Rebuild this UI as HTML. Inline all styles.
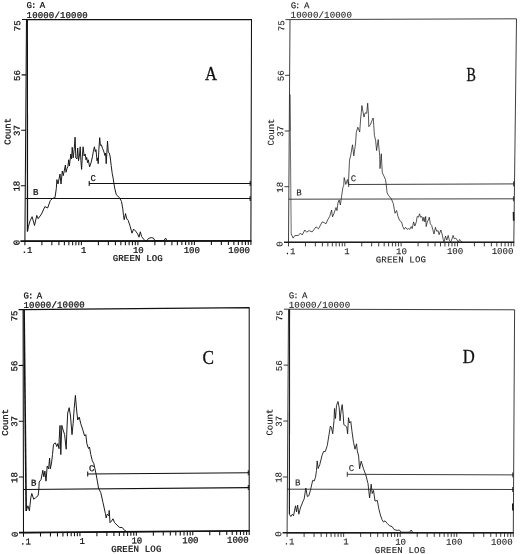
<!DOCTYPE html>
<html lang="en">
<head>
<meta charset="utf-8">
<title>Flow cytometry histograms</title>
<style>
html,body{margin:0;padding:0;background:#fff;}
body{width:520px;height:554px;overflow:hidden;}
svg{display:block;}
svg text{white-space:pre;}
</style>
</head>
<body>
<svg width="520" height="554" viewBox="0 0 520 554">
<rect width="520" height="554" fill="#fff"/>
<!-- panel A -->
<g stroke="#111" fill="none" stroke-width="1.05">
<path d="M26.5 19.4 L251.5 19.6 L250.9 241.1 L24.9 241.2 Z" stroke-linejoin="miter"/>
<path d="M20.38 241.05 L251.43 240.95" stroke-width="1.7"/>
<path d="M22 19.4 L26.5 19.4 M21.59 74.85 L26.1 74.85 M21.19 130.3 L25.7 130.3 M20.79 185.75 L25.3 185.75 M24.9 241.2 L24.87 245.2 M41.91 241.19 L41.88 245.19 M51.86 241.19 L51.83 245.18 M58.92 241.18 L58.89 245.18 M64.39 241.18 L64.37 245.18 M68.87 241.18 L68.84 245.18 M72.65 241.18 L72.62 245.17 M75.92 241.18 L75.9 245.17 M78.81 241.18 L78.79 245.17 M81.4 241.17 L81.38 245.17 M98.41 241.17 L98.39 245.16 M108.36 241.16 L108.34 245.16 M115.42 241.16 L115.39 245.15 M120.89 241.16 L120.87 245.15 M125.37 241.16 L125.34 245.15 M129.15 241.15 L129.13 245.15 M132.42 241.15 L132.4 245.15 M135.31 241.15 L135.29 245.14 M137.9 241.15 L137.88 245.14 M154.91 241.14 L154.89 245.14 M164.86 241.14 L164.84 245.13 M171.92 241.13 L171.9 245.13 M177.39 241.13 L177.38 245.13 M181.87 241.13 L181.85 245.12 M185.65 241.13 L185.63 245.12 M188.92 241.13 L188.91 245.12 M191.81 241.13 L191.8 245.12 M194.4 241.12 L194.38 245.12 M211.41 241.12 L211.39 245.11 M221.36 241.11 L221.34 245.1 M228.42 241.11 L228.4 245.1 M233.89 241.11 L233.88 245.1 M238.37 241.11 L238.35 245.1 M242.15 241.1 L242.14 245.1 M245.42 241.1 L245.41 245.09 M248.31 241.1 L248.3 245.09 M250.9 241.1 L250.89 245.09"/>
</g>
<path d="M25.21 198.4 L251.02 198.4 M89.2 183.5 L251.06 183.5 M89.2 181v5 M250.16 181v5 M250.12 195.9v5" stroke="#111" fill="none" stroke-width="1.05"/>
<g transform="matrix(1.00222 0.00022 -0.00495 0.99842 26.25 19.47)" fill="#111" stroke="#111" stroke-width="0.25" font-family="Liberation Mono, DejaVu Sans Mono, monospace" font-size="9">
<text x="0.3" y="-11" textLength="18.6" lengthAdjust="spacing">G: A</text>
<text x="0.3" y="-1.6" textLength="61" lengthAdjust="spacing">10000/10000</text>
<text transform="translate(-6 6.3) rotate(-90)" text-anchor="middle">75</text>
<text transform="translate(-6 56.1) rotate(-90)" text-anchor="middle">56</text>
<text transform="translate(-6 111.2) rotate(-90)" text-anchor="middle">37</text>
<text transform="translate(-6 167) rotate(-90)" text-anchor="middle">18</text>
<text transform="translate(-5.7 223.4) rotate(-90)" text-anchor="middle">0</text>
<text transform="translate(-15.2 112) rotate(-90)" text-anchor="middle" textLength="26.8" lengthAdjust="spacing">Count</text>
<text x="2" y="233.7" text-anchor="middle">.1</text>
<text x="58.6" y="233.7" text-anchor="middle">1</text>
<text x="113" y="233.7" text-anchor="middle">10</text>
<text x="166.3" y="233.7" text-anchor="middle">100</text>
<text x="213.6" y="233.7" text-anchor="middle">1000</text>
<text x="87.4" y="241.9" textLength="50" lengthAdjust="spacing">GREEN LOG</text>
<text x="7.6" y="175.61">B</text>
<text x="64.9" y="161.68">C</text>
</g>
<text transform="translate(205 80) scale(0.9 1)" font-family="Liberation Serif, DejaVu Serif, serif" font-size="18.5" fill="#111" stroke="#111" stroke-width="0.3">A</text>
<path d="M27.5 231.5 28.3 226.8 30.1 220.8 32.1 216.7 34.5 225.5 36.8 215.4 38.2 218.7 41.5 214 44.9 206.6 47.6 208 50.3 200.6 52.3 198.6 55 197.6 56.3 188.5 56.9 179.6 58 184 59 179 60 174 61 184 62.3 171 63.3 175.6 65.4 165 66 172.3 67 168.5 67.9 166.5 68.7 159.8 69.4 166 70.8 154 71.6 158.8 72.2 147.3 73.2 157.9 74.2 149.2 75.1 137.2 75.8 157.9 77 158.8 77.7 148 78.5 160.8 79.5 155 80.2 146.8 80.9 160.8 81.6 169.4 82.3 156.9 83.1 146.8 84.1 156 85.2 154 86 159.8 86.7 157.4 87.6 162.7 88.3 159.8 89.6 167 91.2 162.2 92.4 156.9 93.4 151.2 94.4 146.8 95.3 151.6 96 149.7 97 160.8 97.7 157.9 98.2 163.7 98.9 149.2 99.7 137.7 100.4 145.4 101.4 144.9 102.5 148.3 104 152.1 104.9 155.5 105.6 153.1 106.2 163.7 106.9 152.1 107.5 141 108.3 152.1 109.3 153.1 110.2 156.9 111.2 165.6 112.2 173.3 113.1 178 113.4 180 114.7 188.1 116.3 194.8 119.4 197.5 121.5 201.5 122.8 208.9 123.5 215.7 124.2 219.7 125.5 213.6 126.8 219 128.2 220.4 130.2 226.4 132 233.2 133.6 229.1 135.6 231.1 137.6 233.8 139 237.2 140.3 231.8 141.6 236.5 143.7 239.2 145 240.6 147 240.6 148.4 238.5 151.1 237.6 153.5 238.1 154.8 240.6 163.9 240.6 165.6 238.1 167 240.7" fill="none" stroke="#111" stroke-width="0.95" stroke-linejoin="round"/>
<path d="M27.3 19.4 L27.5 231.5" fill="none" stroke="#111" stroke-width="1.3"/>
<!-- panel B -->
<g stroke="#1c1c1c" fill="none" stroke-width="0.85">
<path d="M290 19.6 L516.5 18.8 L513.8 242.4 L288.5 242.4 Z" stroke-linejoin="miter"/>
<path d="M283.99 242.25 L514.23 242.25" stroke-width="1.7"/>
<path d="M285.47 19.62 L290 19.6 M285.1 75.31 L289.62 75.3 M284.73 131.01 L289.25 131 M284.36 186.7 L288.88 186.7 M288.5 242.4 L288.47 246.41 M305.46 242.4 L305.43 246.42 M315.37 242.4 L315.34 246.42 M322.41 242.4 L322.38 246.42 M327.87 242.4 L327.84 246.42 M332.33 242.4 L332.3 246.42 M336.1 242.4 L336.07 246.42 M339.37 242.4 L339.33 246.42 M342.25 242.4 L342.22 246.42 M344.82 242.4 L344.79 246.42 M361.78 242.4 L361.75 246.42 M371.7 242.4 L371.66 246.42 M378.74 242.4 L378.7 246.42 M384.19 242.4 L384.16 246.42 M388.65 242.4 L388.62 246.42 M392.43 242.4 L392.39 246.42 M395.69 242.4 L395.65 246.42 M398.57 242.4 L398.54 246.42 M401.15 242.4 L401.11 246.42 M418.11 242.4 L418.07 246.42 M428.02 242.4 L427.98 246.42 M435.06 242.4 L435.02 246.42 M440.52 242.4 L440.48 246.42 M444.98 242.4 L444.94 246.42 M448.75 242.4 L448.71 246.42 M452.02 242.4 L451.97 246.42 M454.9 242.4 L454.85 246.43 M457.47 242.4 L457.43 246.43 M474.43 242.4 L474.39 246.43 M484.35 242.4 L484.3 246.43 M491.39 242.4 L491.34 246.43 M496.84 242.4 L496.8 246.43 M501.3 242.4 L501.26 246.43 M505.08 242.4 L505.03 246.43 M508.34 242.4 L508.29 246.43 M511.22 242.4 L511.17 246.43 M513.8 242.4 L513.75 246.43"/>
</g>
<path d="M288.79 199.2 L514.33 198.8 M348.7 184.5 L514.51 183.9 M348.7 182v5 M513.61 181.4v5 M513.43 196.3v5" stroke="#1c1c1c" fill="none" stroke-width="0.85"/>
<g transform="matrix(1.00400 -0.00178 -0.00946 1.00541 290.30 19.40)" fill="#1c1c1c" stroke="#1c1c1c" stroke-width="0.1" font-family="Liberation Mono, DejaVu Sans Mono, monospace" font-size="9">
<text x="0.3" y="-11" textLength="18.6" lengthAdjust="spacing">G: A</text>
<text x="0.3" y="-1.6" textLength="61" lengthAdjust="spacing">10000/10000</text>
<text transform="translate(-6 6.3) rotate(-90)" text-anchor="middle">75</text>
<text transform="translate(-6 56.1) rotate(-90)" text-anchor="middle">56</text>
<text transform="translate(-6 111.2) rotate(-90)" text-anchor="middle">37</text>
<text transform="translate(-6 167) rotate(-90)" text-anchor="middle">18</text>
<text transform="translate(-5.7 223.4) rotate(-90)" text-anchor="middle">0</text>
<text transform="translate(-15.2 112) rotate(-90)" text-anchor="middle" textLength="26.8" lengthAdjust="spacing">Count</text>
<text x="2" y="233.7" text-anchor="middle">.1</text>
<text x="58.6" y="233.7" text-anchor="middle">1</text>
<text x="113" y="233.7" text-anchor="middle">10</text>
<text x="166.3" y="233.7" text-anchor="middle">100</text>
<text x="213.6" y="233.7" text-anchor="middle">1000</text>
<text x="87.4" y="241.9" textLength="50" lengthAdjust="spacing">GREEN LOG</text>
<text x="7.6" y="175.23">B</text>
<text x="61.8" y="161.01">C</text>
</g>
<text transform="translate(466.5 80.8) scale(0.76 1)" font-family="Liberation Serif, DejaVu Serif, serif" font-size="18.5" fill="#111" stroke="#111" stroke-width="0.3">B</text>
<path d="M291.2 234 293.2 238.1 294.8 235.6 298.5 235.4 300.4 233.1 302.2 235 304.8 230 306.6 232.2 309.1 230.6 312.2 231.9 316 226.9 318.5 228.8 322.2 221.9 324.1 222.5 326 223.8 327.9 219.4 329.8 216.2 331.6 210 332.5 216.9 334.1 213.1 336 207.5 337 210.6 337.9 203.1 339.1 200 340.4 205 341.6 196.2 342.9 187.5 343.7 185.5 344.2 177.6 345.8 184.4 347.4 179.5 348.4 184.4 349.5 160.1 350.6 155.9 352.5 144.8 353.8 155.9 355.6 143 356.3 132.5 357.8 127.2 359.7 132 360.7 118 361.3 112.3 361.9 105.6 362.9 111.3 364 117.1 365.2 112.8 366.7 113.3 367.7 103.2 368.4 114.2 368.8 126.7 370.3 124.8 372.2 120 373.2 118 373.8 125.8 374.4 135.4 375.6 140.2 376.6 150.6 378.2 139.5 379.7 155.9 380 168.6 381.3 153.8 381.8 163.8 382.3 172.8 383.9 176 385.5 179.7 386.2 184.4 387.1 192.9 388.3 195.2 391.3 198.8 393.3 203.7 395 213.2 396.6 210.5 398 216.5 399.7 220.6 401.5 221.9 402.8 226.6 404.2 229.3 405.5 227.3 407.1 229.3 408.5 228.6 409.8 229.3 411.2 226.6 412.2 228.6 413.6 221.9 414.9 226 416.3 221.9 417.2 216.5 418.6 217.2 419.5 213.8 420.6 217.2 421.9 216.5 423 221.2 423.9 217.2 424.9 221.9 425.7 216.5 426.2 226.6 427.3 221.9 428.4 219.9 429.3 217.2 430.3 223.9 431.6 225.3 432.7 229.3 434 234 435.4 227.3 436.7 231.3 438.1 230.7 439.1 234.7 440.8 230 442.1 234 443.2 239.4 444.1 241.8 445.5 236 446.8 240.1 448.2 235.4 449.5 240.8 450.9 241.8 452.2 238.1 453.1 235.4 454.2 238.7 455.8 238.1 457.2 240.1 458.3 242.1 459.6 239.4 460.9 241.4 462.3 242" fill="none" stroke="#1c1c1c" stroke-width="0.75" stroke-linejoin="round"/>
<path d="M290 94.4 L290.31 131" fill="none" stroke="#1c1c1c" stroke-width="0.85"/>
<path d="M290.31 131 L291.2 234" fill="none" stroke="#3a3a3a" stroke-width="0.75"/>
<path d="M513.5 212 L513.7 220.7" stroke="#1c1c1c" stroke-width="1.6" fill="none"/>
<!-- panel C -->
<g stroke="#111" fill="none" stroke-width="1.05">
<path d="M23.1 309.6 L249.2 307.6 L249.2 530.9 L23.5 532.7 Z" stroke-linejoin="miter"/>
<path d="M18.99 532.59 L249.73 530.74" stroke-width="1.7"/>
<path d="M18.58 309.64 L23.1 309.6 M18.68 365.41 L23.2 365.38 M18.78 421.19 L23.3 421.15 M18.88 476.96 L23.4 476.93 M23.5 532.7 L23.51 536.72 M40.49 532.56 L40.49 536.58 M50.42 532.49 L50.43 536.51 M57.47 532.43 L57.48 536.45 M62.94 532.39 L62.95 536.41 M67.41 532.35 L67.41 536.37 M71.18 532.32 L71.19 536.34 M74.46 532.29 L74.46 536.31 M77.34 532.27 L77.35 536.29 M79.92 532.25 L79.93 536.27 M96.91 532.11 L96.92 536.14 M106.85 532.04 L106.85 536.06 M113.9 531.98 L113.9 536 M119.36 531.94 L119.37 535.96 M123.83 531.9 L123.84 535.92 M127.61 531.87 L127.61 535.89 M130.88 531.84 L130.89 535.87 M133.77 531.82 L133.77 535.84 M136.35 531.8 L136.35 535.82 M153.34 531.66 L153.34 535.69 M163.27 531.59 L163.27 535.61 M170.32 531.53 L170.32 535.55 M175.79 531.49 L175.79 535.51 M180.26 531.45 L180.26 535.47 M184.03 531.42 L184.04 535.44 M187.31 531.39 L187.31 535.42 M190.19 531.37 L190.2 535.39 M192.77 531.35 L192.78 535.37 M209.76 531.21 L209.76 535.24 M219.7 531.14 L219.7 535.16 M226.75 531.08 L226.75 535.1 M232.21 531.04 L232.21 535.06 M236.68 531 L236.68 535.02 M240.46 530.97 L240.46 534.99 M243.73 530.94 L243.73 534.97 M246.62 530.92 L246.62 534.94 M249.2 530.9 L249.2 534.92"/>
</g>
<path d="M23.42 489.5 L249.2 487.6 M87.7 473.9 L249.2 472.7 M87.7 471.4v5 M248.3 470.2v5 M248.3 485.1v5" stroke="#111" fill="none" stroke-width="1.05"/>
<g transform="matrix(1.00400 -0.00844 0.00090 1.00541 23.20 309.55)" fill="#111" stroke="#111" stroke-width="0.25" font-family="Liberation Mono, DejaVu Sans Mono, monospace" font-size="9">
<text x="0.3" y="-11" textLength="18.6" lengthAdjust="spacing">G: A</text>
<text x="0.3" y="-1.6" textLength="61" lengthAdjust="spacing">10000/10000</text>
<text transform="translate(-6 6.3) rotate(-90)" text-anchor="middle">75</text>
<text transform="translate(-6 56.1) rotate(-90)" text-anchor="middle">56</text>
<text transform="translate(-6 111.2) rotate(-90)" text-anchor="middle">37</text>
<text transform="translate(-6 167) rotate(-90)" text-anchor="middle">18</text>
<text transform="translate(-5.7 223.4) rotate(-90)" text-anchor="middle">0</text>
<text transform="translate(-15.2 112) rotate(-90)" text-anchor="middle" textLength="26.8" lengthAdjust="spacing">Count</text>
<text x="2" y="233.7" text-anchor="middle">.1</text>
<text x="58.6" y="233.7" text-anchor="middle">1</text>
<text x="113" y="233.7" text-anchor="middle">10</text>
<text x="166.3" y="233.7" text-anchor="middle">100</text>
<text x="213.6" y="233.7" text-anchor="middle">1000</text>
<text x="87.4" y="241.9" textLength="50" lengthAdjust="spacing">GREEN LOG</text>
<text x="7.6" y="175.38">B</text>
<text x="65.4" y="161.27">C</text>
</g>
<text transform="translate(202.6 364) scale(0.93 1)" font-family="Liberation Serif, DejaVu Serif, serif" font-size="18.5" fill="#111" stroke="#111" stroke-width="0.3">C</text>
<path d="M26.2 511 27.9 505.8 29.4 510.8 30.8 497.8 31.8 493.5 33.7 499.2 35.6 497.8 38.1 495.6 38.8 489.9 39.2 481.9 41 479.7 42.8 470.3 43.8 476.8 44.9 471.1 46 481.2 47.2 466 48.6 468.9 49.6 458.1 50.3 468.9 51.5 463.1 52.5 454.5 53.5 444.3 55.4 442.9 56.8 446.5 57.9 443.6 59 448.7 59.2 439.2 60 425.4 60.8 454.6 61.8 425.4 63.1 430 64.6 434.6 66.2 449.2 66.9 430 67.7 413 69.2 407.7 70.5 416 72 434.6 73.1 423.8 74.2 408.5 75.4 395.4 76.6 410 77.7 420 79.2 417 80.8 423.8 83.1 430.8 84.6 436 85.8 434.6 86.9 443.8 88.5 448.5 89.5 447 90.8 454.6 92.3 460.8 93.8 463.5 95.4 471 96.2 474.5 98.5 488 100.8 492.7 103 502.7 105.4 513.5 106.2 518 107.2 514.2 108.8 515.8 109.2 510.4 110 522.7 111.5 521 113 518.8 114.6 522.7 117 525 119.2 527.3 122.3 527.6 124.6 530.4 126.2 531.2" fill="none" stroke="#111" stroke-width="0.95" stroke-linejoin="round"/>
<path d="M24.1 309.6 L26.2 511" fill="none" stroke="#111" stroke-width="1.6"/>
<!-- panel D -->
<g stroke="#1a1a1a" fill="none" stroke-width="0.85">
<path d="M288.5 309.2 L514.6 309.8 L513.3 532.9 L287.1 532.9 Z" stroke-linejoin="miter"/>
<path d="M282.58 532.75 L513.73 532.75" stroke-width="1.7"/>
<path d="M283.98 309.19 L288.5 309.2 M283.63 365.12 L288.15 365.12 M283.28 421.04 L287.8 421.05 M282.93 476.97 L287.45 476.97 M287.1 532.9 L287.07 536.93 M304.12 532.9 L304.1 536.93 M314.08 532.9 L314.06 536.93 M321.15 532.9 L321.12 536.93 M326.63 532.9 L326.6 536.93 M331.1 532.9 L331.08 536.93 M334.89 532.9 L334.87 536.93 M338.17 532.9 L338.14 536.93 M341.06 532.9 L341.04 536.93 M343.65 532.9 L343.63 536.93 M360.67 532.9 L360.65 536.93 M370.63 532.9 L370.61 536.93 M377.7 532.9 L377.67 536.93 M383.18 532.9 L383.15 536.93 M387.65 532.9 L387.63 536.93 M391.44 532.9 L391.42 536.93 M394.72 532.9 L394.7 536.93 M397.61 532.9 L397.59 536.93 M400.2 532.9 L400.18 536.93 M417.22 532.9 L417.2 536.92 M427.18 532.9 L427.16 536.92 M434.25 532.9 L434.22 536.92 M439.73 532.9 L439.7 536.92 M444.2 532.9 L444.18 536.92 M447.99 532.9 L447.97 536.92 M451.27 532.9 L451.25 536.92 M454.16 532.9 L454.14 536.92 M456.75 532.9 L456.73 536.92 M473.77 532.9 L473.75 536.92 M483.73 532.9 L483.71 536.92 M490.8 532.9 L490.77 536.92 M496.28 532.9 L496.25 536.92 M500.75 532.9 L500.73 536.92 M504.54 532.9 L504.52 536.92 M507.82 532.9 L507.8 536.92 M510.71 532.9 L510.69 536.92 M513.3 532.9 L513.28 536.92"/>
</g>
<path d="M287.37 489.2 L513.55 489.5 M347.3 474.3 L513.64 474.9 M347.3 471.8v5 M512.74 472.4v5 M512.65 487v5" stroke="#1a1a1a" fill="none" stroke-width="0.85"/>
<g transform="matrix(1.00511 0.00133 -0.00608 1.00631 288.47 309.35)" fill="#1a1a1a" stroke="#1a1a1a" stroke-width="0.1" font-family="Liberation Mono, DejaVu Sans Mono, monospace" font-size="9">
<text x="0.3" y="-11" textLength="18.6" lengthAdjust="spacing">G: A</text>
<text x="0.3" y="-1.6" textLength="61" lengthAdjust="spacing">10000/10000</text>
<text transform="translate(-6 6.3) rotate(-90)" text-anchor="middle">75</text>
<text transform="translate(-6 56.1) rotate(-90)" text-anchor="middle">56</text>
<text transform="translate(-6 111.2) rotate(-90)" text-anchor="middle">37</text>
<text transform="translate(-6 167) rotate(-90)" text-anchor="middle">18</text>
<text transform="translate(-5.7 223.4) rotate(-90)" text-anchor="middle">0</text>
<text transform="translate(-15.2 112) rotate(-90)" text-anchor="middle" textLength="26.8" lengthAdjust="spacing">Count</text>
<text x="2" y="233.7" text-anchor="middle">.1</text>
<text x="58.6" y="233.7" text-anchor="middle">1</text>
<text x="113" y="233.7" text-anchor="middle">10</text>
<text x="166.3" y="233.7" text-anchor="middle">100</text>
<text x="213.6" y="233.7" text-anchor="middle">1000</text>
<text x="87.4" y="241.9" textLength="50" lengthAdjust="spacing">GREEN LOG</text>
<text x="7.6" y="175.12">B</text>
<text x="61" y="160.52">C</text>
</g>
<text transform="translate(462.8 362.7) scale(0.9 1)" font-family="Liberation Serif, DejaVu Serif, serif" font-size="18.5" fill="#111" stroke="#111" stroke-width="0.3">D</text>
<path d="M289.4 514.2 290.8 516.5 292.4 514.2 293.5 515.8 295.5 505.8 296.5 512 297.6 505 298.8 514.2 300.4 508 302.7 502 304.2 498.8 305.8 488 307.3 496.5 308.8 495.8 310.4 490.4 312.7 480.4 314.2 481 315.5 477.3 316.5 470.4 317.2 460.9 318.2 468.5 319.8 464.5 322 455.5 323.5 451.5 325.3 451.5 327.3 445.4 328.8 436 330.4 426 331.5 427.7 332.7 433.8 334 420.8 334.5 408.5 335.5 418.5 336.5 405.4 338 401.5 339.2 407.7 340 420.8 341.2 410 342.2 404.6 343.2 414.6 343.8 424.6 345 425.4 346.8 427 347.6 433.8 348.5 417.7 349.6 423 350.8 421.5 352 431.5 353.5 442.3 355 449.2 356.5 443.8 357.3 450.8 358.6 456 359.6 468.8 361.2 461.2 363.5 468.8 365.8 475 368 483.5 369.6 498 371.2 484.2 372.2 493.5 373.5 490.4 375 501 377.3 500.4 378.8 508.8 380.4 515 382 519.6 383.5 522 385 520.8 387.3 523.5 389.6 525.8 392 526.5 394.2 529.6 397.3 530.4 399.3 530 401.2 532.2 409.5 532.2 411.2 530 412.7 532.3" fill="none" stroke="#1a1a1a" stroke-width="0.9" stroke-linejoin="round"/>
<path d="M289.5 309.3 L289.4 514.2" fill="none" stroke="#1a1a1a" stroke-width="1.2"/>
<path d="M512.8 503.5 L512.9 510.5" stroke="#1a1a1a" stroke-width="1.6" fill="none"/>
</svg>
</body>
</html>
